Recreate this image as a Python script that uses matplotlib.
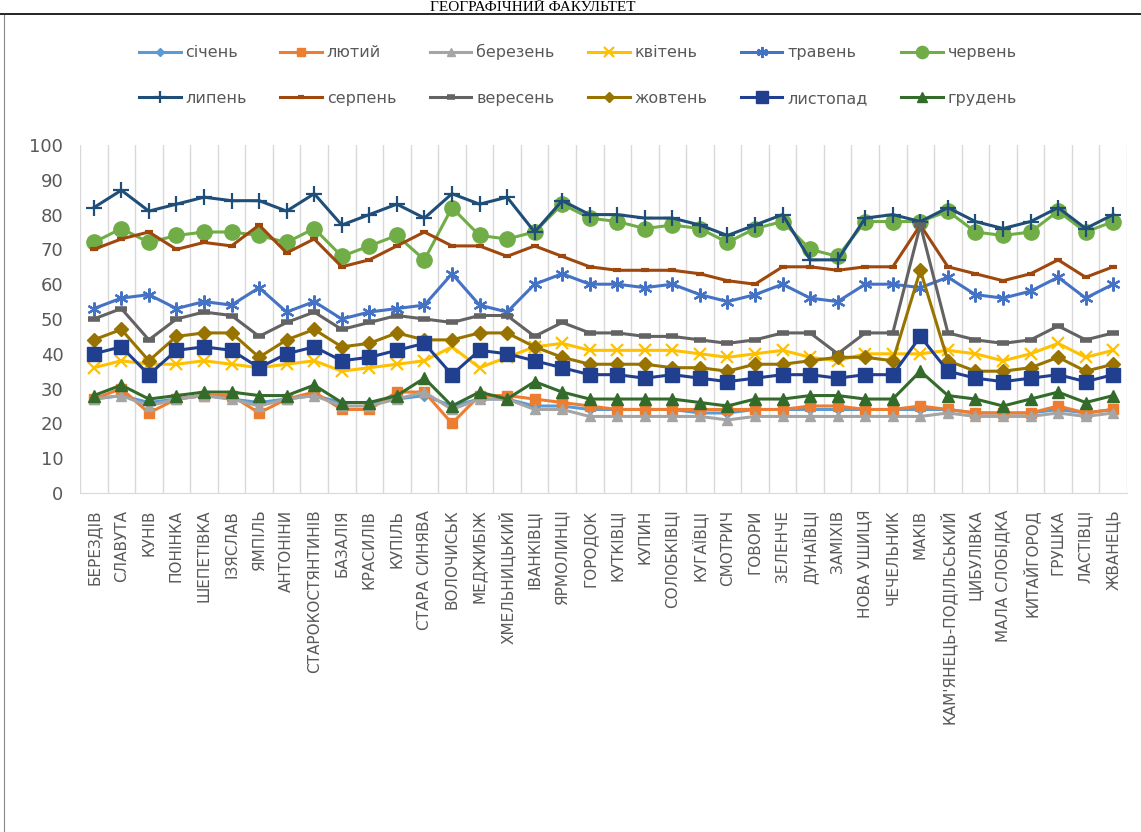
import numpy as np
import matplotlib
matplotlib.use("Agg")
import matplotlib.pyplot as plt
from matplotlib.lines import Line2D

# categories (x axis)
places = ["БЕРЕЗДІВ", "СЛАВУТА", "КУНІВ", "ПОНІНКА", "ШЕПЕТІВКА", "ІЗЯСЛАВ", "ЯМПІЛЬ",
          "АНТОНІНИ", "СТАРОКОСТЯНТИНІВ", "БАЗАЛІЯ", "КРАСИЛІВ", "КУПІЛЬ", "СТАРА СИНЯВА",
          "ВОЛОЧИСЬК", "МЕДЖИБІЖ", "ХМЕЛЬНИЦЬКИЙ", "ІВАНКІВЦІ", "ЯРМОЛИНЦІ", "ГОРОДОК",
          "КУТКІВЦІ", "КУПИН", "СОЛОБКІВЦІ", "КУГАЇВЦІ", "СМОТРИЧ", "ГОВОРИ", "ЗЕЛЕНЧЕ",
          "ДУНАЇВЦІ", "ЗАМІХІВ", "НОВА УШИЦЯ", "ЧЕЧЕЛЬНИК", "МАКІВ", "КАМ'ЯНЕЦЬ-ПОДІЛЬСЬКИЙ",
          "ЦИБУЛІВКА", "МАЛА СЛОБІДКА", "КИТАЙГОРОД", "ГРУШКА", "ЛАСТІВЦІ", "ЖВАНЕЦЬ"]

# monthly values per place
sichen   = [27, 28, 26, 27, 28, 27, 26, 27, 28, 26, 26, 27, 28, 25, 27, 27, 25, 25, 24, 24,
            24, 24, 23, 23, 24, 24, 24, 24, 24, 24, 24, 24, 23, 23, 23, 24, 23, 24]
lyutyi   = [27, 30, 23, 27, 28, 28, 23, 27, 29, 24, 24, 29, 29, 20, 28, 28, 27, 26, 25, 24,
            24, 24, 24, 24, 24, 24, 25, 25, 24, 24, 25, 24, 23, 23, 23, 25, 23, 24]
berezen  = [27, 28, 25, 27, 28, 27, 25, 27, 28, 25, 25, 27, 29, 24, 27, 27, 24, 24, 22, 22,
            22, 22, 22, 21, 22, 22, 22, 22, 22, 22, 22, 23, 22, 22, 22, 23, 22, 23]
kviten   = [36, 38, 37, 37, 38, 37, 36, 37, 38, 35, 36, 37, 38, 42, 36, 39, 42, 43, 41, 41,
            41, 41, 40, 39, 40, 41, 39, 38, 40, 40, 40, 41, 40, 38, 40, 43, 39, 41]
traven   = [53, 56, 57, 53, 55, 54, 59, 52, 55, 50, 52, 53, 54, 63, 54, 52, 60, 63, 60, 60,
            59, 60, 57, 55, 57, 60, 56, 55, 60, 60, 59, 62, 57, 56, 58, 62, 56, 60]
cherven  = [72, 76, 72, 74, 75, 75, 74, 72, 76, 68, 71, 74, 67, 82, 74, 73, 75, 83, 79, 78,
            76, 77, 76, 72, 76, 78, 70, 68, 78, 78, 78, 81, 75, 74, 75, 81, 75, 78]
lypen    = [82, 87, 81, 83, 85, 84, 84, 81, 86, 77, 80, 83, 79, 86, 83, 85, 75, 84, 80, 80,
            79, 79, 77, 74, 77, 80, 67, 67, 79, 80, 78, 82, 78, 76, 78, 82, 76, 80]
serpen   = [70, 73, 75, 70, 72, 71, 77, 69, 73, 65, 67, 71, 75, 71, 71, 68, 71, 68, 65, 64,
            64, 64, 63, 61, 60, 65, 65, 64, 65, 65, 77, 65, 63, 61, 63, 67, 62, 65]
veresen  = [50, 53, 44, 50, 52, 51, 45, 49, 52, 47, 49, 51, 50, 49, 51, 51, 45, 49, 46, 46,
            45, 45, 44, 43, 44, 46, 46, 40, 46, 46, 77, 46, 44, 43, 44, 48, 44, 46]
zhovten  = [44, 47, 38, 45, 46, 46, 39, 44, 47, 42, 43, 46, 44, 44, 46, 46, 42, 39, 37, 37,
            37, 36, 36, 35, 37, 37, 38, 39, 39, 38, 64, 38, 35, 35, 36, 39, 35, 37]
lystopad = [40, 42, 34, 41, 42, 41, 36, 40, 42, 38, 39, 41, 43, 34, 41, 40, 38, 36, 34, 34,
            33, 34, 33, 32, 33, 34, 34, 33, 34, 34, 45, 35, 33, 32, 33, 34, 32, 34]
hruden   = [28, 31, 27, 28, 29, 29, 28, 28, 31, 26, 26, 28, 33, 25, 29, 27, 32, 29, 27, 27,
            27, 27, 26, 25, 27, 27, 28, 28, 27, 27, 35, 28, 27, 25, 27, 29, 26, 28]

months = ["січень", "лютий", "березень", "квітень", "травень", "червень",
          "липень", "серпень", "вересень", "жовтень", "листопад", "грудень"]
series = [sichen, lyutyi, berezen, kviten, traven, cherven,
          lypen, serpen, veresen, zhovten, lystopad, hruden]

# colour, marker, size, edge width
styles = [
    ("#5B9BD5", "D", 5, 1),
    ("#ED7D31", "s", 7, 1),
    ("#A5A5A5", "^", 7, 1),
    ("#FFC000", "x", 9, 1.6),
    ("#4472C4", (6, 2, 0), 10, 1.6),
    ("#70AD47", "o", 11, 1),
    ("#1F4E79", "+", 11, 1.6),
    ("#9E480E", "_", 6, 3),
    ("#636363", "_", 8, 4),
    ("#997300", "D", 7, 1),
    ("#203F8F", "s", 10, 1),
    ("#336B2B", "^", 9, 1),
]

grey = "#595959"
fig = plt.figure(figsize=(11.41, 8.32), dpi=100)
ax = fig.add_axes([80 / 1141, 1 - 493 / 832, 1047 / 1141, 348 / 832])

x = np.arange(len(places))
handles = []
for name, vals, (c, m, ms, mew) in zip(months, series, styles):
    h, = ax.plot(x, vals, color=c, lw=2.2, marker=m, ms=ms, mfc=c, mec=c, mew=mew, label=name)
    handles.append(h)

ax.set_xlim(-0.5, len(places) - 0.5)
ax.set_ylim(0, 100)
ax.set_yticks(range(0, 101, 10))
ax.set_xticks(x)
ax.set_xticklabels(places, rotation=90, fontsize=11, color=grey, family="DejaVu Sans")
ax.set_xticks(np.arange(-0.5, len(places), 1), minor=True)
ax.grid(which="minor", axis="x", color="#D9D9D9", lw=1)
ax.tick_params(axis="x", which="both", length=0, pad=12)
ax.tick_params(axis="y", length=0, pad=12, labelsize=13, labelcolor=grey)
for s in ["top", "right", "left"]:
    ax.spines[s].set_visible(False)
ax.spines["bottom"].set_color("#D9D9D9")

# legend: two rows of six, filled row by row
order = [i + 6 * r for i in range(6) for r in range(2)]
fig.legend([handles[i] for i in order], [months[i] for i in order], ncol=6,
           loc="center", bbox_to_anchor=(578 / 1141, 1 - 75 / 832), frameon=False,
           fontsize=11.5, labelcolor=grey, handlelength=2.6, handletextpad=0.3,
           columnspacing=2.1, labelspacing=1.9, markerscale=0.8)

# page header above the rule
fig.text(533 / 1141, 1 - 11 / 832, "ГЕОГРАФІЧНИЙ ФАКУЛЬТЕТ", ha="center", va="baseline",
         fontsize=11, family="Liberation Serif", color="black")
fig.add_artist(Line2D([0, 1], [1 - 14 / 832] * 2, transform=fig.transFigure, color="black", lw=1.2))
fig.add_artist(Line2D([4 / 1141] * 2, [0, 1 - 15 / 832], transform=fig.transFigure, color="#888888", lw=0.8))

fig.savefig("out.png", dpi=100, facecolor="white")
